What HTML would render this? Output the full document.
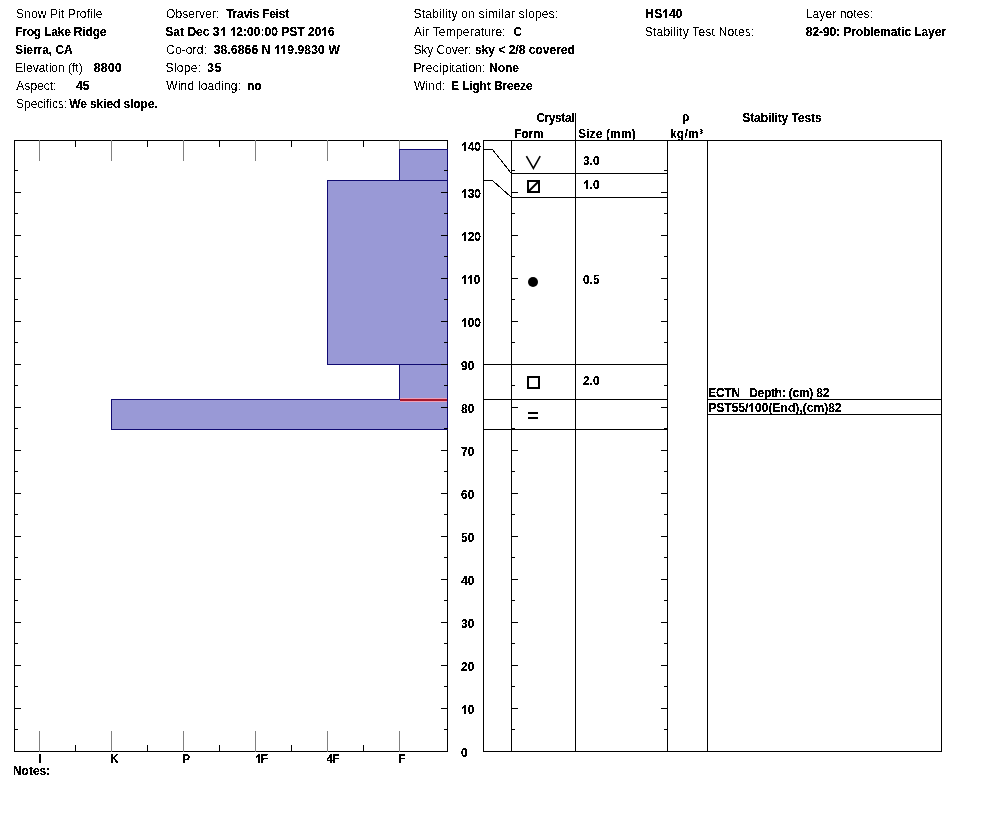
<!DOCTYPE html>
<html><head><meta charset="utf-8"><title>Snow Pit Profile</title>
<style>
html,body{margin:0;padding:0;background:#fff;}
body{width:994px;height:840px;overflow:hidden;position:relative;}
svg{position:absolute;left:0;top:0;}
text{font-family:"Liberation Sans",sans-serif;font-size:12px;fill:#000;}
.b{font-weight:bold;}
text{filter:url(#cr);}
text.b{filter:url(#cb);}
tspan.o{fill-opacity:0;}
</style></head><body>
<svg width="994" height="840" viewBox="0 0 994 840">
<defs><filter id="cr" x="-5%" y="-20%" width="110%" height="140%"><feComponentTransfer><feFuncA type="discrete" tableValues="0 1"/></feComponentTransfer></filter>
<filter id="cb" x="-5%" y="-20%" width="110%" height="140%"><feComponentTransfer><feFuncA type="discrete" tableValues="0 0 1 1 1"/></feComponentTransfer></filter></defs>
<g>
<text x="16.02" y="18" textLength="86.30" lengthAdjust="spacing">Snow Pit Profile</text>
<text x="15.00" y="36" class="b" textLength="91.49" lengthAdjust="spacing">Frog Lake Ridge</text>
<text x="15.10" y="54" class="b" textLength="57.63" lengthAdjust="spacing">Sierra, CA</text>
<text x="15.30" y="72">Elevation (ft)</text>
<text x="93.70" y="72" class="b" textLength="28.00" lengthAdjust="spacing">8800</text>
<text x="16.30" y="90" textLength="40.33" lengthAdjust="spacing">Aspect:</text>
<text x="76.00" y="90" class="b">45</text>
<text x="16.00" y="108">Specifics:</text>
<text x="69.22" y="108" class="b" textLength="88.45" lengthAdjust="spacing">We skied slope.</text>
<text x="166.00" y="18" textLength="53.39" lengthAdjust="spacing">Observer:</text>
<text x="226.20" y="18" class="b" textLength="63.03" lengthAdjust="spacing">Travis Feist</text>
<text x="165.30" y="36" class="b" textLength="169.48" lengthAdjust="spacing">Sat Dec 3<tspan class="o">1</tspan> <tspan class="o">1</tspan>2:00:00 PST 20<tspan class="o">1</tspan>6</text>
<text x="166.20" y="54" textLength="40.58" lengthAdjust="spacing">Co-ord:</text>
<text x="213.70" y="54" class="b" textLength="126.05" lengthAdjust="spacing">38.6866 N <tspan class="o">1</tspan><tspan class="o">1</tspan>9.9830 W</text>
<text x="165.50" y="72" textLength="35.53" lengthAdjust="spacing">Slope:</text>
<text x="207.36" y="72" class="b" textLength="14.00" lengthAdjust="spacing">35</text>
<text x="166.30" y="90" textLength="74.72" lengthAdjust="spacing">Wind loading:</text>
<text x="247.02" y="90" class="b">no</text>
<text x="413.40" y="18" textLength="144.96" lengthAdjust="spacing">Stability on similar slopes:</text>
<text x="413.98" y="36" textLength="91.68" lengthAdjust="spacing">Air Temperature:</text>
<text x="513.20" y="36" class="b">C</text>
<text x="413.40" y="54" textLength="58.29" lengthAdjust="spacing">Sky Cover:</text>
<text x="475.00" y="54" class="b">sky &lt; 2/8 covered</text>
<text x="413.40" y="72" textLength="72.18" lengthAdjust="spacing">Precipitation:</text>
<text x="489.20" y="72" class="b" textLength="29.68" lengthAdjust="spacing">None</text>
<text x="413.98" y="90" textLength="31.49" lengthAdjust="spacing">Wind:</text>
<text x="450.90" y="90" class="b" textLength="81.72" lengthAdjust="spacing">E Light Breeze</text>
<text x="645.36" y="18" class="b" textLength="37.17" lengthAdjust="spacing">HS<tspan class="o">1</tspan>40</text>
<text x="644.80" y="36" textLength="109.67" lengthAdjust="spacing">Stability Test Notes:</text>
<text x="805.80" y="18" textLength="67.05" lengthAdjust="spacing">Layer notes:</text>
<text x="805.80" y="36" class="b" textLength="140.18" lengthAdjust="spacing">82-90: Problematic Layer</text>
<g shape-rendering="crispEdges">
<rect x="14.5" y="140.5" width="433" height="611" fill="none" stroke="#000"/>
<path d="M39.5 140v21M39.5 731v21M111.5 140v21M111.5 731v21M183.5 140v21M183.5 731v21M255.5 140v21M255.5 731v21M327.5 140v21M327.5 731v21M399.5 140v21M399.5 731v21" stroke="#808080" fill="none"/>
<path d="M75.5 141v6M75.5 745v6M147.5 141v6M147.5 745v6M219.5 141v6M219.5 745v6M291.5 141v6M291.5 745v6M363.5 141v6M363.5 745v6" stroke="#000" fill="none"/>
<g fill="#9999d6" stroke="#100a72">
<rect x="399.5" y="149.5" width="48" height="31"/>
<rect x="327.5" y="180.5" width="120" height="184"/>
<rect x="399.5" y="364.5" width="48" height="35"/>
<rect x="111.5" y="399.5" width="336" height="30"/>
</g>
<rect x="400" y="398" width="47" height="1" fill="#f0a0b8"/><rect x="400" y="401" width="47" height="1" fill="#f0a0b8"/><rect x="400" y="399" width="47" height="2" fill="#a8182c"/>
<path d="M14 729.5h4M444 729.5h4M14 708.5h7M441 708.5h7M14 686.5h4M444 686.5h4M14 665.5h7M441 665.5h7M14 643.5h4M444 643.5h4M14 622.5h7M441 622.5h7M14 600.5h4M444 600.5h4M14 579.5h7M441 579.5h7M14 557.5h4M444 557.5h4M14 536.5h7M441 536.5h7M14 514.5h4M444 514.5h4M14 493.5h7M441 493.5h7M14 471.5h4M444 471.5h4M14 450.5h7M441 450.5h7M14 428.5h4M444 428.5h4M14 407.5h7M441 407.5h7M14 385.5h4M444 385.5h4M14 364.5h7M441 364.5h7M14 342.5h4M444 342.5h4M14 321.5h7M441 321.5h7M14 299.5h4M444 299.5h4M14 278.5h7M441 278.5h7M14 256.5h4M444 256.5h4M14 235.5h7M441 235.5h7M14 213.5h4M444 213.5h4M14 192.5h7M441 192.5h7M14 170.5h4M444 170.5h4" stroke="#000" fill="none"/>
</g>
<text x="38.00" y="763" class="b">I</text>
<text x="110.00" y="763" class="b">K</text>
<text x="182.00" y="763" class="b">P</text>
<text x="255.20" y="763" class="b" textLength="13.00" lengthAdjust="spacing"><tspan class="o">1</tspan>F</text>
<text x="326.60" y="763" class="b" textLength="13.00" lengthAdjust="spacing">4F</text>
<text x="398.00" y="763" class="b">F</text>
<text x="12.90" y="775" class="b">Notes:</text>
<text x="461.00" y="757" class="b">0</text>
<text x="461.00" y="714" class="b"><tspan class="o">1</tspan>0</text>
<text x="461.00" y="671" class="b">20</text>
<text x="461.00" y="628" class="b">30</text>
<text x="461.00" y="585" class="b">40</text>
<text x="461.00" y="542" class="b">50</text>
<text x="461.00" y="499" class="b">60</text>
<text x="461.00" y="456" class="b">70</text>
<text x="461.00" y="413" class="b">80</text>
<text x="461.00" y="370" class="b">90</text>
<text x="461.00" y="327" class="b"><tspan class="o">1</tspan>00</text>
<text x="461.00" y="284" class="b"><tspan class="o">1</tspan><tspan class="o">1</tspan>0</text>
<text x="461.00" y="241" class="b"><tspan class="o">1</tspan>20</text>
<text x="461.00" y="198" class="b"><tspan class="o">1</tspan>30</text>
<text x="461.00" y="151" class="b"><tspan class="o">1</tspan>40</text>
<g shape-rendering="crispEdges" stroke="#000" fill="none">
<rect x="483.5" y="140.5" width="458" height="611"/>
<path d="M511.5 140V751M575.5 113V751M667.5 140V751M707.5 140V751"/>
<path d="M511 729.5h4M664 729.5h4M511 708.5h7M661 708.5h7M511 686.5h4M664 686.5h4M511 665.5h7M661 665.5h7M511 643.5h4M664 643.5h4M511 622.5h7M661 622.5h7M511 600.5h4M664 600.5h4M511 579.5h7M661 579.5h7M511 557.5h4M664 557.5h4M511 536.5h7M661 536.5h7M511 514.5h4M664 514.5h4M511 493.5h7M661 493.5h7M511 471.5h4M664 471.5h4M511 450.5h7M661 450.5h7M511 428.5h4M664 428.5h4M511 407.5h7M661 407.5h7M511 385.5h4M664 385.5h4M511 364.5h7M661 364.5h7M511 342.5h4M664 342.5h4M511 321.5h7M661 321.5h7M511 299.5h4M664 299.5h4M511 278.5h7M661 278.5h7M511 256.5h4M664 256.5h4M511 235.5h7M661 235.5h7M511 213.5h4M664 213.5h4M511 192.5h7M661 192.5h7M511 170.5h4M664 170.5h4"/>
<path d="M511 173.5H668M511 197.5H668M483 364.5H668M483 399.5H668M483 429.5H668M707 399.5H942M707 414.5H942"/>
</g>
<path d="M483 149.5H492.5L511 173M483 180.5H492.5L511 197" stroke="#000" fill="none" shape-rendering="crispEdges"/>
<path d="M526.4 156.2L533.4 168.3L540.2 156.2" stroke="#000" stroke-width="1.6" fill="none"/>
<rect x="528" y="181" width="11" height="11" stroke="#000" stroke-width="2" fill="none"/>
<path d="M528 192L539 181" stroke="#000" stroke-width="2" fill="none"/>
<circle cx="533" cy="282" r="5" fill="#000"/>
<rect x="528" y="377" width="11" height="11" stroke="#000" stroke-width="2" fill="none"/>
<rect x="528" y="412" width="10" height="2" fill="#000"/><rect x="528" y="417" width="10" height="2" fill="#000"/>
<text x="583.00" y="165" class="b">3.0</text>
<text x="583.00" y="189" class="b"><tspan class="o">1</tspan>.0</text>
<text x="583.00" y="284" class="b">0.5</text>
<text x="583.00" y="385" class="b">2.0</text>
<text x="536.20" y="122" class="b" textLength="38.33" lengthAdjust="spacing">Crystal</text>
<text x="514.00" y="138" class="b">Form</text>
<text x="578.02" y="138" class="b" textLength="57.67" lengthAdjust="spacing">Size (mm)</text>
<text x="682.00" y="121" class="b">ρ</text>
<text x="669.90" y="138" class="b" textLength="33.04" lengthAdjust="spacing">kg/m³</text>
<text x="742.20" y="122" class="b" textLength="79.45" lengthAdjust="spacing">Stability Tests</text>
<text x="708.19" y="397" class="b" textLength="121.13" lengthAdjust="spacing" xml:space="preserve">ECTN   Depth: (cm) 82</text>
<text x="708.19" y="412" class="b" textLength="133.36" lengthAdjust="spacing">PST55/<tspan class="o">1</tspan>00(End),(cm)82</text>
<path d="M223 27h2v9h-2zM222 28h1v2h-1zM221 29h1v2h-1zM233 27h2v9h-2zM232 28h1v2h-1zM231 29h1v2h-1zM324 27h2v9h-2zM323 28h1v2h-1zM322 29h1v2h-1zM277 45h2v9h-2zM276 46h1v2h-1zM275 47h1v2h-1zM283 45h2v9h-2zM282 46h1v2h-1zM281 47h1v2h-1zM665 9h2v9h-2zM664 10h1v2h-1zM663 11h1v2h-1zM258 754h2v9h-2zM257 755h1v2h-1zM256 756h1v2h-1zM464 705h2v9h-2zM463 706h1v2h-1zM462 707h1v2h-1zM464 318h2v9h-2zM463 319h1v2h-1zM462 320h1v2h-1zM464 275h2v9h-2zM463 276h1v2h-1zM462 277h1v2h-1zM470 275h2v9h-2zM469 276h1v2h-1zM468 277h1v2h-1zM464 232h2v9h-2zM463 233h1v2h-1zM462 234h1v2h-1zM464 189h2v9h-2zM463 190h1v2h-1zM462 191h1v2h-1zM464 142h2v9h-2zM463 143h1v2h-1zM462 144h1v2h-1zM586 180h2v9h-2zM585 181h1v2h-1zM584 182h1v2h-1zM751 403h2v9h-2zM750 404h1v2h-1zM749 405h1v2h-1z" fill="#000" shape-rendering="crispEdges"/>
</g></svg>
</body></html>
